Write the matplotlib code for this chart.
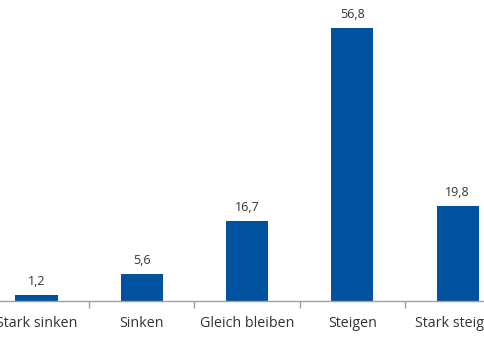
import matplotlib
matplotlib.use("Agg")
import matplotlib.pyplot as plt
import numpy as np

categories = ["Stark sinken", "Sinken", "Gleich bleiben", "Steigen", "Stark steigen"]
values = [1.2, 5.6, 16.7, 56.8, 19.8]
value_labels = ["1,2", "5,6", "16,7", "56,8", "19,8"]

plt.rcParams['font.family'] = ['Open Sans', 'DejaVu Sans']

fig = plt.figure(figsize=(4.85, 3.6), dpi=100)
ax = fig.add_axes([0, 59/360, 1, 301/360])

x = np.arange(len(categories))
bars = ax.bar(x, values, width=0.4, color='#00529F', zorder=2)
for xi, v, lab in zip(x, values, value_labels):
    ax.annotate(lab, (xi, v), xytext=(0, 5), textcoords='offset points',
                ha='center', va='bottom', fontsize=9, color='#333333')

ax.set_xlim(-0.347, 4.26)
ax.set_ylim(0, 62.6)
ax.set_yticks([])
for s in ['top', 'right', 'left']:
    ax.spines[s].set_visible(False)
ax.spines['bottom'].set_color('#A0A0A0')
ax.spines['bottom'].set_linewidth(1.0)

ax.set_xticks(x)
ax.set_xticklabels(categories, fontsize=10.3, color='#333333')
ax.tick_params(axis='x', which='major', length=0, pad=11)
ax.set_xticks(x[:-1] + 0.5, minor=True)
ax.tick_params(axis='x', which='minor', length=5, color='#A0A0A0', width=1.0)

fig.savefig("out.png", dpi=100)
